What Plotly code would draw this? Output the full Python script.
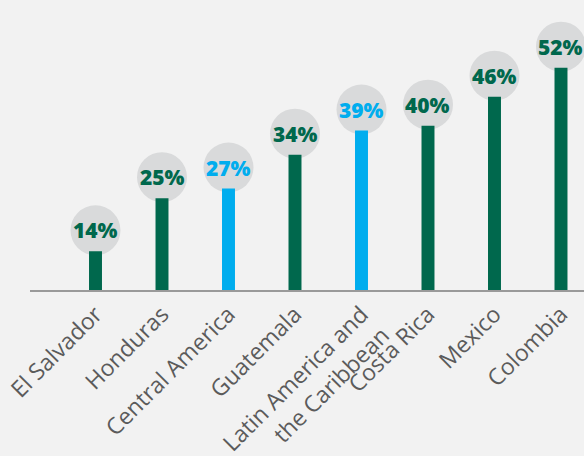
import plotly.graph_objects as go

# Share of population, by country / region
categories = ["El Salvador", "Honduras", "Central America", "Guatemala",
              "Latin America and<br>the Caribbean", "Costa Rica", "Mexico", "Colombia"]
values = [14, 25, 27, 34, 39, 40, 46, 52]
is_aggregate = [False, False, True, False, True, False, False, False]

GREEN = "#00684d"
BLUE = "#00adee"
BUBBLE = "#d9dadb"
BG = "#f2f2f2"

colors = [BLUE if agg else GREEN for agg in is_aggregate]

fig = go.Figure(
    go.Bar(
        x=categories,
        y=values,
        marker=dict(color=colors, line=dict(width=0)),
        hoverinfo="skip",
    )
)

# grey bubble behind each value label, sitting just above the bar top
shapes = []
annotations = []
for cat, val, col in zip(categories, values, colors):
    shapes.append(dict(
        type="circle", layer="below",
        xref="x", yref="y",
        xsizemode="pixel", ysizemode="pixel",
        xanchor=cat, yanchor=val,
        x0=-25, x1=25, y0=-4, y1=46,
        fillcolor=BUBBLE, line=dict(width=0),
    ))
    annotations.append(dict(
        x=cat, y=val, xref="x", yref="y",
        text=f"{val}%", showarrow=False, yshift=21,
        font=dict(family="Open Sans", size=21, color=col, weight=800),
    ))

fig.update_layout(
    width=584, height=456,
    margin=dict(l=30, r=0, t=0, b=166),
    paper_bgcolor=BG, plot_bgcolor=BG,
    bargap=0.805,
    showlegend=False,
    shapes=shapes,
    annotations=annotations,
    xaxis=dict(
        type="category",
        range=[-0.985, 7.346],
        automargin=False,
        showgrid=False, zeroline=False,
        showline=True, linecolor="#9a9a9a", linewidth=1.5,
        ticks="", tickangle=-45,
        tickfont=dict(family="Open Sans", size=23, color="#5b5b5b"),
    ),
    yaxis=dict(
        range=[6, 66],
        visible=False, showgrid=False, zeroline=False,
    ),
)

fig.write_html("out.html")
